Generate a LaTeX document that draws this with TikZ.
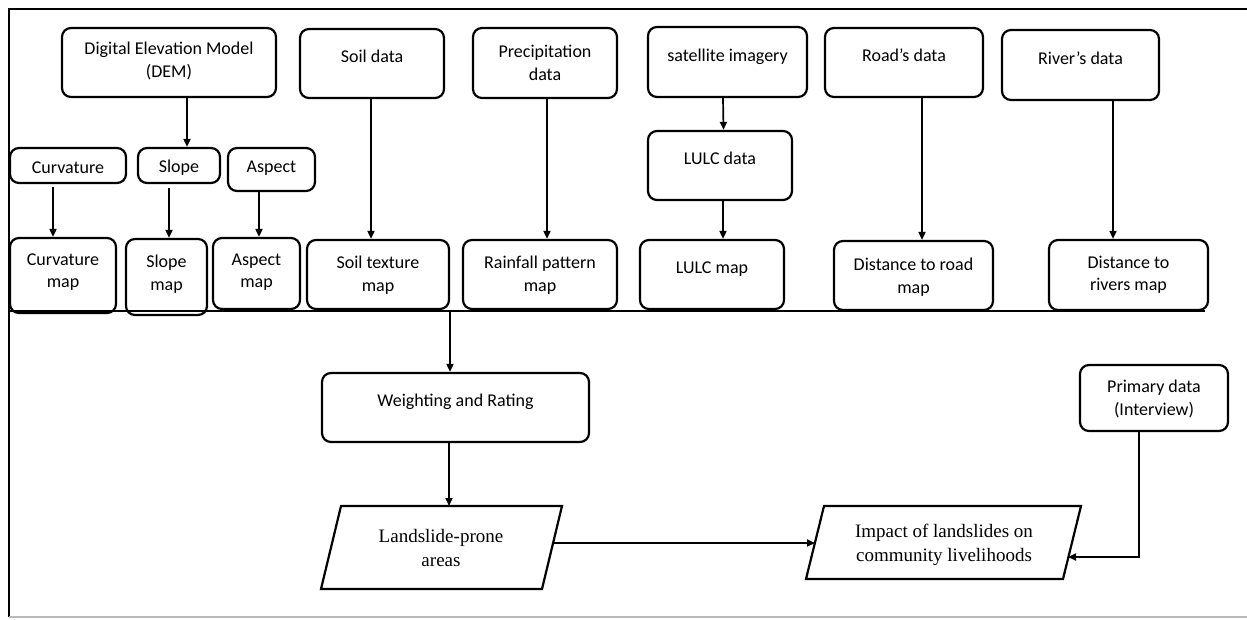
\documentclass[tikz,border=0pt]{standalone}
\usepackage{fontspec}
\setmainfont{Carlito}
\newfontfamily\tnr{Liberation Serif}
\usetikzlibrary{arrows.meta}
\begin{document}
\begin{tikzpicture}[x=1pt,y=-1pt,
  box/.style={draw, line width=2.2pt, rounded corners=9pt, inner sep=0pt},
  txt/.style={inner sep=0pt, align=center, font=\fontsize{18}{22.5}\selectfont},
  stxt/.style={inner sep=0pt, align=center, font=\tnr\fontsize{19}{23.5}\selectfont},
  arr/.style={line width=1.7pt, -{Triangle[length=8pt,width=7pt]}},
  para/.style={draw, line width=2.2pt, line join=miter}]
\useasboundingbox (0,0) rectangle (1247,619);
% frame
\draw[line width=2pt] (1247,9) -- (9,9) -- (9,617);
\draw[line width=2pt, gray!55] (9,617) -- (1247,617);
\coordinate (busL) at (9,311);
\coordinate (busR) at (1205,311);
\draw[line width=2pt] (busL) -- (busR);
% top row
\node[box, minimum width=214pt, minimum height=69pt] (dem) at (169,62.5) {};
\node[txt] (demT) at (169,61) {Digital Elevation Model\\(DEM)};
\node[box, minimum width=144pt, minimum height=69pt] (soil) at (372,63.5) {};
\node[txt] (soilT) at (372,56) {Soil data};
\node[box, minimum width=144pt, minimum height=70pt] (prec) at (545,63) {};
\node[txt] (precT) at (545,63) {Precipitation\\data};
\node[box, minimum width=159pt, minimum height=70pt] (sat) at (727.5,62) {};
\node[txt] (satT) at (727.5,57) {satellite imagery};
\node[box, minimum width=144pt, minimum height=69pt] (lulcd) at (720,165.5) {};
\node[txt] (lulcdT) at (720,158) {LULC data};
\node[box, minimum width=158pt, minimum height=69pt] (road) at (904,62.5) {};
\node[txt] (roadT) at (904,55) {Road’s data};
\node[box, minimum width=157pt, minimum height=70pt] (river) at (1080.5,65) {};
\node[txt] (riverT) at (1080.5,58) {River’s data};
% DEM derivatives
\node[box, minimum width=116pt, minimum height=35pt] (curv) at (68,165.5) {};
\node[txt] (curvT) at (68,168) {Curvature};
\node[box, minimum width=82pt, minimum height=35pt] (slope) at (179,165.5) {};
\node[txt] (slopeT) at (179,168) {Slope};
\node[box, minimum width=87pt, minimum height=43pt] (asp) at (271.5,169.5) {};
\node[txt] (aspT) at (271.5,168) {Aspect};
% maps
\node[box, minimum width=106pt, minimum height=75pt] (curvm) at (63,275.5) {};
\node[txt] (curvmT) at (63,272) {Curvature\\map};
\node[box, minimum width=81pt, minimum height=76pt] (slopem) at (166.5,277) {};
\node[txt] (slopemT) at (166.5,274) {Slope\\map};
\node[box, minimum width=87pt, minimum height=71pt] (aspm) at (256.5,273.5) {};
\node[txt] (aspmT) at (256.5,272) {Aspect\\map};
\node[box, minimum width=142pt, minimum height=69pt] (soilm) at (378,274.5) {};
\node[txt] (soilmT) at (378,275) {Soil texture\\map};
\node[box, minimum width=154pt, minimum height=69pt] (rainm) at (540,274.5) {};
\node[txt] (rainmT) at (540,275) {Rainfall pattern\\map};
\node[box, minimum width=144pt, minimum height=69pt] (lulcm) at (712,274.5) {};
\node[txt] (lulcmT) at (712,269) {LULC map};
\node[box, minimum width=159pt, minimum height=69pt] (roadm) at (913.5,275.5) {};
\node[txt] (roadmT) at (913.5,277) {Distance to road\\map};
\node[box, minimum width=159pt, minimum height=70pt] (riverm) at (1128.5,275) {};
\node[txt] (rivermT) at (1128.5,275) {Distance to\\rivers map};
% lower part
\node[box, minimum width=267pt, minimum height=69pt] (weight) at (455.5,407.5) {};
\node[txt] (weightT) at (455.5,402) {Weighting and Rating};
\node[box, minimum width=148pt, minimum height=66pt] (prim) at (1154,398) {};
\node[txt] (primT) at (1154,399) {Primary data\\(Interview)};
% parallelograms
\draw[para] (341,506) -- (562,506) -- (542,589) -- (321,589) -- cycle;
\coordinate (landT) at (449,506);
\coordinate (landR) at (553,543);
\node[stxt] (landT2) at (441,548) {Landslide-prone\\areas};
\draw[para] (824,506) -- (1081,506) -- (1063,579) -- (806,579) -- cycle;
\coordinate (impL) at (815,543);
\coordinate (impR) at (1068,557);
\node[stxt] (impT) at (944,545) {Impact of landslides on\\community livelihoods};
% arrows
\draw[arr] ([xshift=18pt]dem.south) coordinate (a1) -- (a1 |- slope.north);
\draw[arr] ([xshift=-15pt,yshift=-3pt]curv.south) coordinate (a2) -- (a2 |- curvm.north);
\draw[arr] ([xshift=-10pt,yshift=-4pt]slope.south) coordinate (a3) -- (a3 |- slopem.north);
\draw[arr] ([xshift=-12.5pt]asp.south) coordinate (a4) -- (a4 |- aspm.north);
\draw[arr] ([xshift=-1pt]soil.south) coordinate (a5) -- (a5 |- soilm.north);
\draw[arr] ([xshift=2pt]prec.south) coordinate (a6) -- (a6 |- rainm.north);
\draw[arr] ([xshift=-4.5pt]sat.south) -- ([xshift=3.5pt]lulcd.north);
\draw[arr] ([xshift=3pt]lulcd.south) coordinate (a7) -- (a7 |- lulcm.north);
\draw[arr] ([xshift=18pt]road.south) coordinate (a8) -- (a8 |- roadm.north);
\draw[arr] ([xshift=32.5pt]river.south) coordinate (a9) -- (a9 |- riverm.north);
\draw[arr] ([xshift=-5.5pt]weight.north |- busL) -- ([xshift=-5.5pt]weight.north);
\draw[arr] ([xshift=-6.5pt]weight.south) coordinate (a10) -- (a10 |- landT);
\draw[arr] (landR) -- (impL);
\draw[arr] ([xshift=-15pt]prim.south) |- (impR);
\end{tikzpicture}
\end{document}
